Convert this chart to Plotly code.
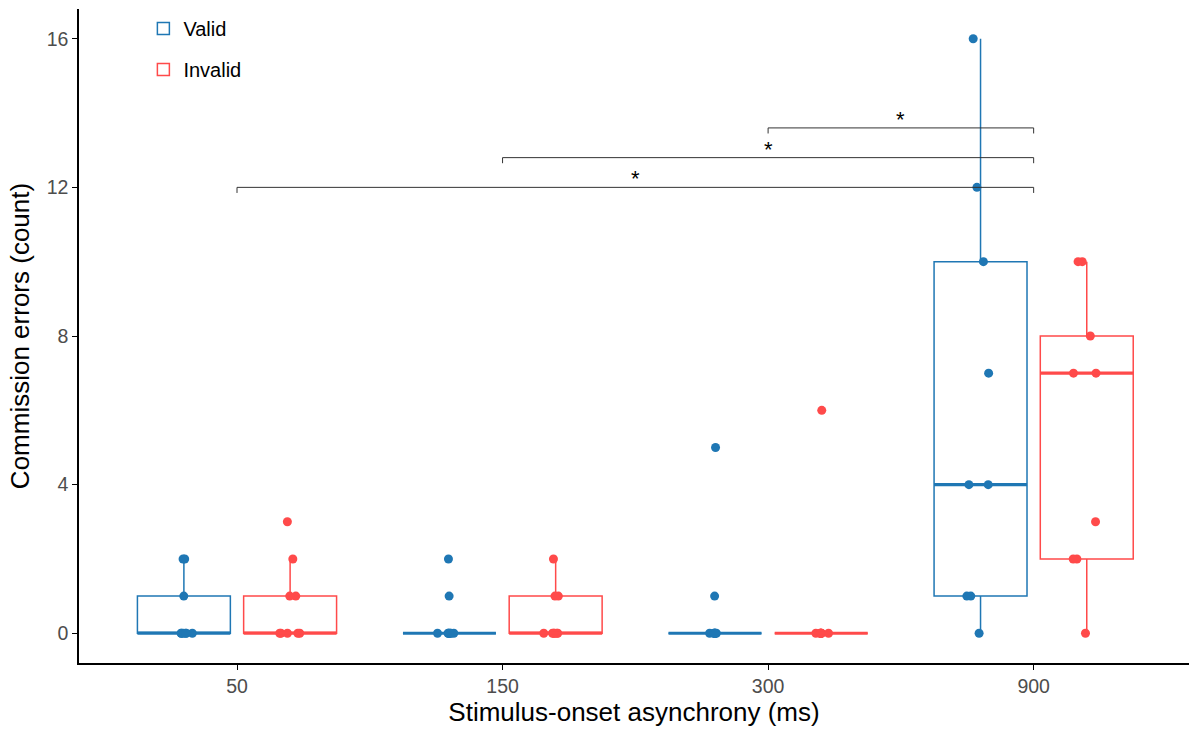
import numpy as np
import plotly.graph_objects as go

# Stimulus-onset asynchrony conditions (ms)
soa_labels = ["50", "150", "300", "900"]

# Commission errors per participant, by SOA condition
valid_50 = [0, 0, 0, 0, 0, 0, 1, 2, 2]
valid_150 = [0, 0, 0, 0, 0, 0, 0, 1, 2]
valid_300 = [0, 0, 0, 0, 0, 0, 0, 1, 5]
valid_900 = [0, 1, 1, 4, 4, 7, 10, 12, 16]

invalid_50 = [0, 0, 0, 0, 0, 1, 1, 2, 3]
invalid_150 = [0, 0, 0, 0, 0, 0, 1, 1, 2]
invalid_300 = [0, 0, 0, 0, 0, 0, 0, 0, 6]
invalid_900 = [0, 2, 2, 3, 7, 7, 8, 10, 10]

# Pairwise comparisons marked significant (SOA index pairs) and bracket heights
sig_pairs = [(1, 4), (2, 4), (3, 4)]
sig_heights = [12.0, 12.8, 13.6]
sig_labels = ["*", "*", "*"]

BLUE = "#1F77B4"
RED = "#FF4A4A"
FONT = "Liberation Sans, Arial, sans-serif"

groups = [
    ("Valid", BLUE, -0.2, [valid_50, valid_150, valid_300, valid_900]),
    ("Invalid", RED, 0.2, [invalid_50, invalid_150, invalid_300, invalid_900]),
]
box_w = 0.35

fig = go.Figure()

for name, color, offset, series in groups:
    xs, ys = [], []
    for i, vals in enumerate(series):
        xs += [i + 1 + offset] * len(vals)
        ys += vals
    fig.add_trace(go.Box(
        x=xs, y=ys, name=name, legendgroup=name,
        width=box_w, quartilemethod="inclusive",
        boxpoints="all", jitter=0.35, pointpos=0,
        whiskerwidth=0,
        line=dict(color=color, width=1.5),
        fillcolor="rgba(255,255,255,0)",
        marker=dict(color=color, size=9, opacity=1),
        hoverinfo="y",
    ))
    # thicker median bars
    for i, vals in enumerate(series):
        med = float(np.median(vals))
        c = i + 1 + offset
        fig.add_trace(go.Scatter(
            x=[c - box_w / 2, c + box_w / 2], y=[med, med], mode="lines",
            line=dict(color=color, width=3.2), showlegend=False,
            hoverinfo="skip", legendgroup=name,
        ))

# significance brackets
tick = 0.15
for (a, b), h, lab in zip(sig_pairs, sig_heights, sig_labels):
    fig.add_trace(go.Scatter(
        x=[a, a, b, b], y=[h - tick, h, h, h - tick], mode="lines",
        line=dict(color="#333333", width=1), showlegend=False, hoverinfo="skip",
    ))
    fig.add_annotation(
        x=(a + b) / 2, y=h, text=lab, showarrow=False, yanchor="bottom", yshift=-6,
        font=dict(size=22, color="black", family=FONT),
    )

fig.update_layout(
    width=1189, height=730,
    margin=dict(l=79, r=0, t=9, b=67),
    plot_bgcolor="white", paper_bgcolor="white",
    font=dict(family=FONT, color="black"),
    showlegend=True,
    legend=dict(
        x=0.058, y=1.0, xanchor="left", yanchor="top",
        font=dict(size=20, color="black", family=FONT),
        bgcolor="rgba(0,0,0,0)", tracegroupgap=12,
    ),
    xaxis=dict(
        range=[0.405, 4.585],
        tickmode="array", tickvals=[1, 2, 3, 4], ticktext=soa_labels,
        showgrid=False, zeroline=False,
        showline=True, linecolor="black", linewidth=1.5,
        ticks="outside", ticklen=5, tickcolor="black", tickwidth=1.2,
        tickfont=dict(size=19.5, color="#4D4D4D"),
        title=dict(text="Stimulus-onset asynchrony (ms)", font=dict(size=26, color="black"), standoff=6),
    ),
    yaxis=dict(
        range=[-0.8, 16.8],
        tickmode="array", tickvals=[0, 4, 8, 12, 16],
        showgrid=False, zeroline=False,
        showline=True, linecolor="black", linewidth=1.5,
        ticks="outside", ticklen=5, tickcolor="black", tickwidth=1.2,
        tickfont=dict(size=19.5, color="#4D4D4D"),
        title=dict(text="Commission errors (count)", font=dict(size=26, color="black"), standoff=10),
    ),
)

fig.write_html("out.html")
